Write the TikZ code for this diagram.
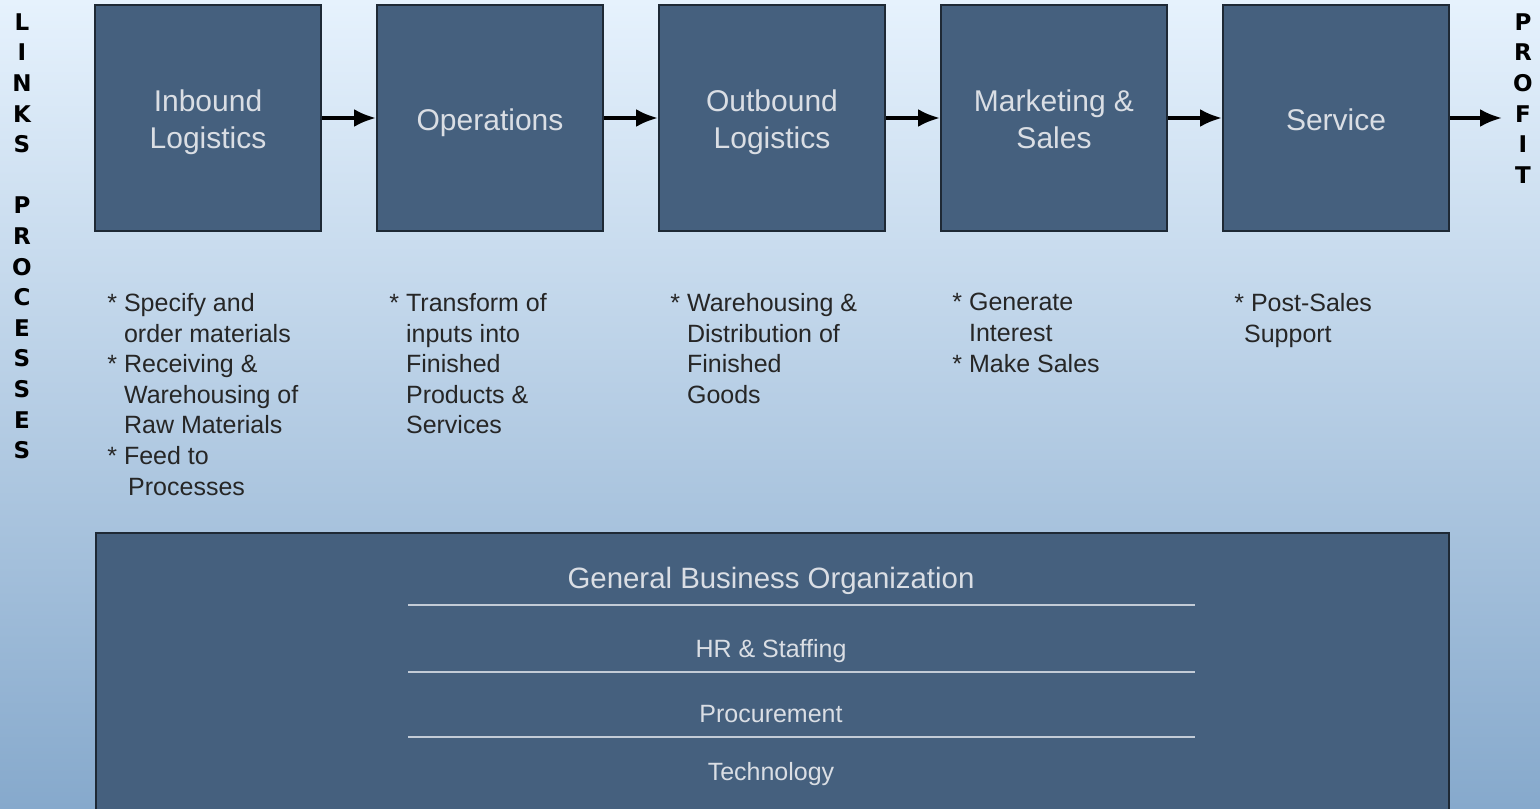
\documentclass[tikz,border=0pt]{standalone}
\usepackage{fontspec}
\setmainfont{Liberation Sans}
\newfontfamily\sidefont{DejaVu Sans}
\usepackage{xcolor}
\usetikzlibrary{arrows.meta}

\definecolor{bgtop}{HTML}{E6F2FD}
\definecolor{bgmid}{HTML}{B9D7F0}
\definecolor{bgbot}{HTML}{86A9CC}
\definecolor{boxfill}{HTML}{45607E}
\definecolor{boxline}{HTML}{1E2935}
\definecolor{boxtext}{HTML}{DADEE4}
\definecolor{rulecol}{HTML}{C3CCD7}

\newcommand{\stagelabel}[1]{\raisebox{0pt}[\dimexpr\height+5pt\relax][\depth]{\begin{tabular}{@{}c@{}}#1\end{tabular}}}

\begin{document}
\begin{tikzpicture}[x=0.5pt,y=-0.5pt,
  stage/.style={draw=boxline,line width=1pt,fill=boxfill,minimum width=113pt,minimum height=113pt,inner sep=0pt,text=boxtext,font=\fontsize{15}{18.5}\selectfont},
  flow/.style={-{Latex[length=11pt,width=9pt]},line width=1.8pt},
  notes/.style={anchor=north west,align=left,inner sep=0pt,text=black!85,font=\fontsize{12.5}{15.3}\selectfont},
  sidechar/.style={inner sep=0pt,text=black,font=\sidefont\bfseries\fontsize{11.5}{13}\selectfont},
  support/.style={inner sep=0pt,text=boxtext,font=\fontsize{12.5}{15}\selectfont}]
\useasboundingbox (0,0) rectangle (1540,808);
\shade[top color=bgtop,middle color=bgmid,bottom color=bgbot] (0,0) rectangle (1540,808);

% primary activities
\node[stage] (inb) at (208,118) {\stagelabel{Inbound\\Logistics}};
\node[stage] (ops) at (490,118) {\stagelabel{Operations}};
\node[stage] (outb) at (772,118) {\stagelabel{Outbound\\Logistics}};
\node[stage] (mkt) at (1054,118) {\stagelabel{Marketing \&\\Sales}};
\node[stage] (serv) at (1336,118) {\stagelabel{Service}};
\coordinate (profit) at (1502,118);

\draw[flow] (inb) -- (ops);
\draw[flow] (ops) -- (outb);
\draw[flow] (outb) -- (mkt);
\draw[flow] (mkt) -- (serv);
\draw[flow] (serv) -- (profit);

% activity notes
\node[notes] (inb-notes) at (107,293) {* Specify and\\\phantom{* }order materials\\* Receiving \&\\\phantom{* }Warehousing of\\\phantom{* }Raw Materials\\* Feed to\\\phantom{* }\,Processes};
\node[notes] (ops-notes) at (389,293) {* Transform of\\\phantom{* }inputs into\\\phantom{* }Finished\\\phantom{* }Products \&\\\phantom{* }Services};
\node[notes] (outb-notes) at (670,293) {* Warehousing \&\\\phantom{* }Distribution of\\\phantom{* }Finished\\\phantom{* }Goods};
\node[notes] (mkt-notes) at (952,293) {* Generate\\\phantom{* }Interest\\* Make Sales};
\node[notes] (serv-notes) at (1234,293) {* Post-Sales\\\phantom{*}Support};

% side labels
\foreach \ch [count=\i] in {L,I,N,K,S,{},P,R,O,C,E,S,S,E,S}
  \node[sidechar] (links-\i) at (22,{22+30.6*(\i-1)}) {\ch};
\foreach \ch [count=\i] in {P,R,O,F,I,T}
  \node[sidechar] (profit-\i) at (1523,{22+30.6*(\i-1)}) {\ch};

% support activities
\node[draw=boxline,line width=1pt,fill=boxfill,anchor=north west,minimum width=676.5pt,minimum height=160pt,inner sep=0pt] (gbo) at (95,532) {};
\node[support,font=\fontsize{14.7}{17}\selectfont] (gen) at (771,581) {General Business Organization};
\node[support] (hr) at (771,651) {HR \& Staffing};
\node[support] (proc) at (771,714) {Procurement};
\node[support] (tech) at (771,774) {Technology};
\draw[rulecol,line width=0.6pt] (408,605) -- (1195,605);
\draw[rulecol,line width=0.6pt] (408,672) -- (1195,672);
\draw[rulecol,line width=0.6pt] (408,737) -- (1195,737);
\end{tikzpicture}
\end{document}
